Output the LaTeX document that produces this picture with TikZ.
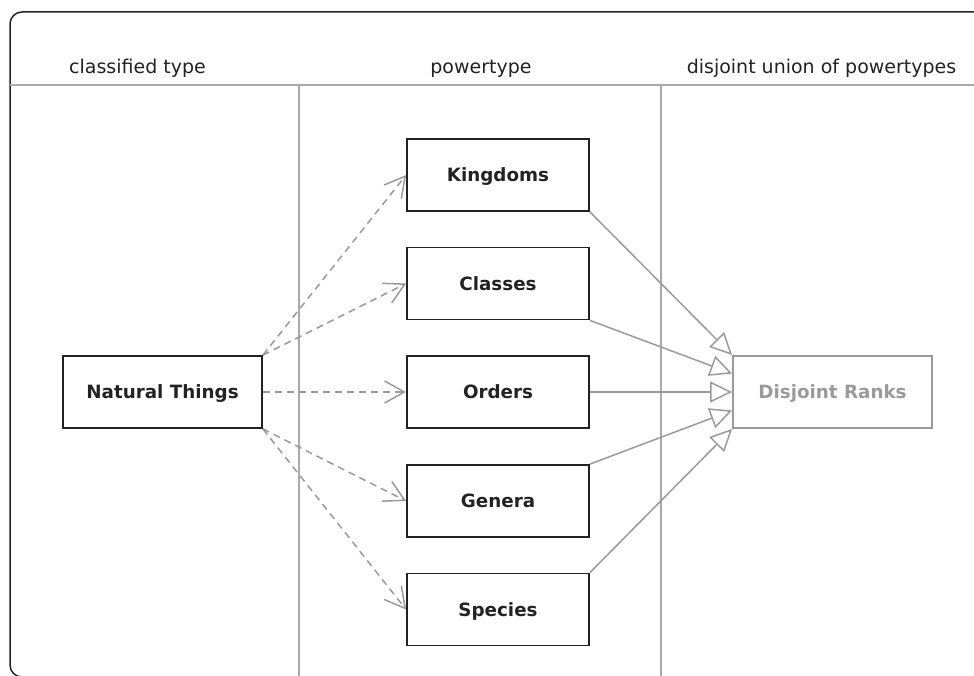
\documentclass[tikz,border=0pt]{standalone}
\usepackage{fontspec}
\setmainfont{DejaVu Sans}
\usetikzlibrary{arrows.meta,calc}
\definecolor{dark}{HTML}{222222}
\definecolor{lgray}{HTML}{9A9A9A}
\definecolor{hgray}{HTML}{AAAAAA}
\begin{document}
\begin{tikzpicture}[x=1pt,y=-1pt,
  hdr/.style={font=\fontsize{19}{22}\selectfont, text=dark, anchor=base, inner sep=0pt},
  typebox/.style={draw=dark, line width=1.8pt, minimum width=182pt, minimum height=72pt,
    inner sep=0pt, text height=13.5pt, text depth=0pt,
    font=\fontsize{18.3}{20}\selectfont\bfseries, text=dark},
  unionbox/.style={typebox, draw=lgray, text=lgray, minimum width=199pt},
  sep/.style={draw=hgray, line width=1.4pt},
  instof/.style={draw=lgray, line width=1.5pt, dash pattern=on 7pt off 5pt,
    -{Straight Barb[length=20pt,width=22pt]}},
  gen/.style={draw=lgray, line width=1.5pt, -{Triangle[open,length=22pt,width=21pt]}}
]
\useasboundingbox (0,0) rectangle (974,676);
\begin{scope}
  \clip (0,0) rectangle (974,676);
  \draw[dark, line width=1.5pt, rounded corners=12pt] (10,12) rectangle (1000,677);
\end{scope}
\draw[sep] (10,85) -- (974,85);
\draw[sep] (299,85) -- (299,676);
\draw[sep] (661,85) -- (661,676);

\node[hdr] (h1) at (137.5,74) {classified type};
\node[hdr] (h2) at (481,74) {powertype};
\node[hdr] (h3) at (821.5,74) {disjoint union of powertypes};

\node[typebox, minimum width=199pt] (nt) at (162.5,392) {Natural Things};
\node[typebox] (king) at (498,175) {Kingdoms};
\node[typebox] (cls) at (498,283.5) {Classes};
\node[typebox] (ord) at (498,392) {Orders};
\node[typebox] (gna) at (498,501) {Genera};
\node[typebox] (spc) at (498,609.5) {Species};
\node[unionbox] (dr) at (832.5,392) {Disjoint Ranks};

\draw[instof] (nt.north east) -- (king.west);
\draw[instof] (nt.north east) -- (cls.west);
\draw[instof] (nt.east) -- (ord.west);
\draw[instof] (nt.south east) -- (gna.west);
\draw[instof] (nt.south east) -- (spc.west);

\coordinate (d2) at ($(dr.north west)!0.25!(dr.south west)$);
\coordinate (d4) at ($(dr.north west)!0.75!(dr.south west)$);
\draw[gen] (king.south east) -- (dr.north west);
\draw[gen] (cls.south east) -- (d2);
\draw[gen] (ord.east) -- (dr.west);
\draw[gen] (gna.north east) -- (d4);
\draw[gen] (spc.north east) -- (dr.south west);
\end{tikzpicture}
\end{document}
